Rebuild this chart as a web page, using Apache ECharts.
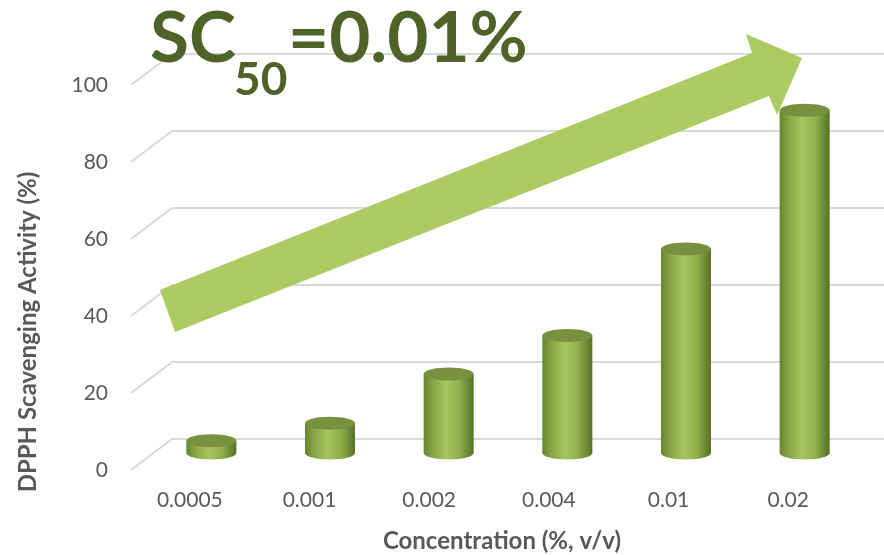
<!DOCTYPE html>
<html>
<head>
<meta charset="utf-8">
<script src="https://cdn.jsdelivr.net/npm/echarts@6/dist/echarts.min.js"></script>
<style>
  html, body { margin: 0; padding: 0; background: #ffffff; }
  #chart { width: 884px; height: 555px; }
</style>
</head>
<body>
<div id="chart"></div>
<script>
// Concentrations tested (% v/v) and the measured DPPH scavenging activity (%)
const categories = ['0.0005', '0.001', '0.002', '0.004', '0.01', '0.02'];
const activity = [3.2, 7.7, 20.5, 30.5, 53, 89];
const yTicks = [0, 20, 40, 60, 80, 100];

const FONT = 'Lato, "Noto Sans", sans-serif';
const GRAY = '#595959';

// Depth offsets of the pseudo-3D chart (back wall -> front plane, back wall -> bar plane)
const FRONT_DX = -41, FRONT_DY = 31;
const BAR_DX = -20, BAR_DY = 14;
const BAR_W = 50, BAR_RY = 6.5;

const chart = echarts.init(document.getElementById('chart'), null, { renderer: 'canvas' });

const bodyGradient = new echarts.graphic.LinearGradient(0, 0, 1, 0, [
  { offset: 0, color: '#68852f' },
  { offset: 0.18, color: '#86a545' },
  { offset: 0.45, color: '#a6c660' },
  { offset: 0.72, color: '#8fae4c' },
  { offset: 0.9, color: '#6a8732' },
  { offset: 1, color: '#587326' }
]);

const option = {
  backgroundColor: '#ffffff',
  animation: false,
  grid: [
    // back wall
    { left: 172, width: 718, top: 54, height: 385 },
    // front plane (axis labels)
    { left: 130, width: 718, top: 85, height: 385 }
  ],
  xAxis: [
    { type: 'category', gridIndex: 0, data: categories, show: false },
    {
      type: 'category', gridIndex: 1, data: categories,
      axisLine: { show: false }, axisTick: { show: false },
      axisLabel: { color: GRAY, fontFamily: FONT, fontSize: 21, margin: 20 }
    }
  ],
  yAxis: [
    {
      type: 'value', gridIndex: 0, min: 0, max: 100, interval: 20,
      axisLine: { show: false }, axisTick: { show: false }, axisLabel: { show: false },
      splitLine: { lineStyle: { color: '#d9d9d9', width: 2 } }
    },
    {
      type: 'value', gridIndex: 1, min: 0, max: 100, interval: 20,
      axisLine: { show: false }, axisTick: { show: false }, splitLine: { show: false },
      axisLabel: { color: GRAY, fontFamily: FONT, fontSize: 21, margin: 22 }
    }
  ],
  series: [
    {
      // slanted side-wall segments joining the front ticks to the back gridlines
      type: 'custom', xAxisIndex: 0, yAxisIndex: 0, clip: false, silent: true,
      data: yTicks.map(v => [0, v]),
      renderItem: function (params, api) {
        const p = api.coord([0, api.value(1)]);
        const x0 = params.coordSys.x;
        return {
          type: 'line',
          shape: { x1: x0, y1: p[1], x2: x0 + FRONT_DX, y2: p[1] + FRONT_DY },
          style: { stroke: '#d9d9d9', lineWidth: 2 }
        };
      }
    },
    {
      // cylinder bars
      type: 'custom', xAxisIndex: 0, yAxisIndex: 0, clip: false, z: 5,
      data: activity.map((v, i) => [i, v]),
      renderItem: function (params, api) {
        const base = api.coord([api.value(0), 0]);
        const top = api.coord([api.value(0), api.value(1)]);
        const cx = base[0] + BAR_DX;
        const yb = base[1] + BAR_DY;
        const yt = top[1] + BAR_DY;
        const rx = BAR_W / 2;
        return {
          type: 'group',
          children: [
            {
              type: 'ellipse',
              shape: { cx: cx, cy: yb, rx: rx, ry: BAR_RY },
              style: { fill: bodyGradient }
            },
            {
              type: 'rect',
              shape: { x: cx - rx, y: yt, width: BAR_W, height: yb - yt },
              style: { fill: bodyGradient }
            },
            {
              type: 'ellipse',
              shape: { cx: cx, cy: yt, rx: rx, ry: BAR_RY },
              style: { fill: '#77913f' }
            }
          ]
        };
      }
    }
  ],
  graphic: [
    // rising trend arrow
    {
      type: 'polygon', z: 10,
      shape: { points: [[160, 290], [752, 53], [746, 34], [802, 58], [777, 115], [769, 96], [175, 332]] },
      style: { fill: '#adcb63' }
    },
    // SC50 headline
    {
      type: 'text', z: 11, x: 150, y: 39,
      style: { text: 'SC', fill: '#4f6228', font: 'bold 71px ' + FONT, verticalAlign: 'middle' }
    },
    {
      type: 'text', z: 11, x: 234, y: 80,
      style: { text: '50', fill: '#4f6228', font: 'bold 46px ' + FONT, verticalAlign: 'middle' }
    },
    {
      type: 'text', z: 11, x: 288, y: 39,
      style: { text: '=0.01%', fill: '#4f6228', font: 'bold 71px ' + FONT, verticalAlign: 'middle' }
    },
    // axis titles
    {
      type: 'text', z: 11, x: 502, y: 541,
      style: { text: 'Concentration (%, v/v)', fill: GRAY, font: 'bold 24px ' + FONT, align: 'center', verticalAlign: 'middle' }
    },
    {
      type: 'text', z: 11, x: 28, y: 332, rotation: Math.PI / 2,
      style: { text: 'DPPH Scavenging Activity (%)', fill: GRAY, font: 'bold 24px ' + FONT, align: 'center', verticalAlign: 'middle' }
    }
  ]
};

chart.setOption(option);
</script>
</body>
</html>
